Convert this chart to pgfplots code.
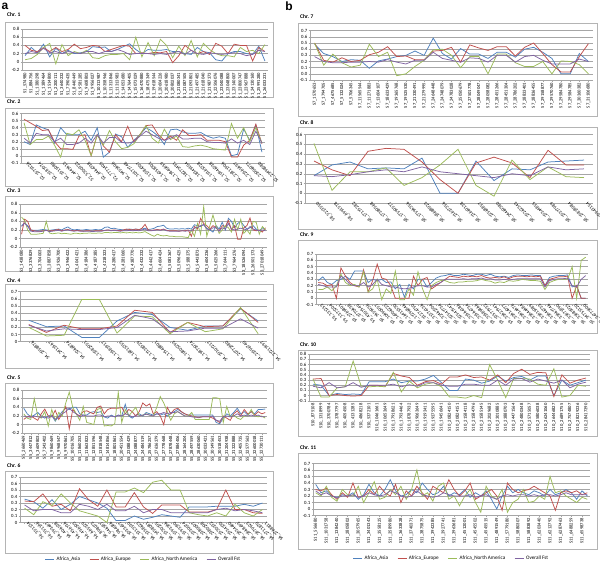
\documentclass[border=0pt]{standalone}
\usepackage{fontspec}
\setmainfont{Carlito}
\newfontfamily\letterfont{Liberation Sans}
\usepackage{pgfplots}
\pgfplotsset{compat=1.18}
\usepackage{pgfplotstable}

\definecolor{cAsia}{HTML}{4F81BD}
\definecolor{cEur}{HTML}{C0504D}
\definecolor{cNam}{HTML}{9BBB59}
\definecolor{cFst}{HTML}{8064A2}
\definecolor{gridc}{HTML}{A6A6A6}
\definecolor{framec}{HTML}{B4B4B4}

\tikzset{
  asiac/.style={color=cAsia, line width=0.75pt},
  eurc/.style={color=cEur, line width=0.75pt},
  namc/.style={color=cNam, line width=0.75pt},
  fstc/.style={color=cFst, line width=0.75pt},
}

\pgfplotsset{
  chr/.style={
    scale only axis, anchor=north west,
    axis x line*=bottom, axis y line*=left,
    axis line style={gridc, line width=0.4pt},
    ymajorgrids, grid style={gridc, line width=0.4pt},
    tick style={gridc, line width=0.4pt}, major tick length=1.5pt, tick align=outside,
    xtick pos=bottom, ytick pos=left,
    yticklabel style={font=\fontsize{4.8}{5}\selectfont, inner sep=1pt,
      /pgf/number format/.cd, fixed, precision=1, assume math mode=true},
    xticklabel style={font=\fontsize{4.6}{5}\selectfont, rotate=90, anchor=east, inner sep=1pt},
    every axis plot/.append style={mark=none},
  },
  diag/.style={xticklabel style={rotate=45, anchor=north east, font=\fontsize{4.8}{5}\selectfont}},
  legendbox/.style={
    legend style={at={(0.5,-0.82)}, anchor=center, draw=none, fill=none,
      legend columns=4, font=\fontsize{5.2}{6}\selectfont,
      /tikz/every even column/.append style={column sep=7pt}},
    legend image code/.code={\draw[##1] (0pt,0pt)--(9pt,0pt);},
    legend entries={Africa\_Asia, Africa\_Europe, Africa\_North America, Overall Fst},
  },
}

\newcommand\fourlines[1]{%
  \addplot[asiac] table[x expr=\coordindex, y=a]{#1};
  \addplot[eurc] table[x expr=\coordindex, y=e]{#1};
  \addplot[namc] table[x expr=\coordindex, y=n]{#1};
  \addplot[fstc] table[x expr=\coordindex, y=f]{#1};
}

% columns: a = Africa_Asia, e = Africa_Europe, n = Africa_North America, f = Overall Fst
\pgfplotstableread{
a e n f
0.15 0.40 0.05 0.20
0.35 0.28 0.08 0.25
0.22 0.25 0.18 0.22
0.43 0.35 0.35 0.33
0.12 0.25 0.45 0.22
0.33 0.35 -0.05 0.25
0.20 0.25 0.42 0.20
0.28 0.30 0.15 0.25
0.20 0.43 0.25 0.22
0.22 0.32 0.20 0.20
0.25 0.35 0.28 0.25
0.37 0.40 0.10 0.25
0.35 0.38 0.08 0.20
0.36 0.25 0.15 0.25
0.25 0.30 0.18 0.25
0.30 0.35 0.18 0.30
0.37 0.40 0.20 0.25
0.44 0.38 0.05 0.18
0.30 0.20 0.60 0.20
0.20 0.22 0.12 0.20
0.30 0.20 0.47 0.20
0.28 0.23 0.15 0.18
0.28 0.22 0.55 0.20
0.30 0.25 0.40 0.18
0.25 -0.02 0.10 0.22
0.25 0.15 0.38 0.25
0.20 0.40 0.15 0.18
0.18 0.28 0.52 0.28
0.35 0.20 0.12 0.20
0.25 0.25 0.45 0.18
0.22 0.18 0.30 0.22
0.05 0.45 0.20 0.20
0.02 0.38 0.15 0.18
0.20 0.20 0.15 0.20
0.25 0.43 0.12 0.22
0.25 0.40 0.35 0.20
0.20 0.40 0.25 0.15
0.18 0.02 0.28 0.18
0.38 0.35 0.20 0.28
0.02 0.25 0.42 0.25
}\tOne

\pgfplotstableread{
a e n f
0.20 0.52 0.47 0.25
0.16 0.47 0.16 0.18
0.44 0.42 0.23 0.32
0.40 0.36 0.23 0.30
0.37 0.37 0.28 0.30
0.18 0.20 0.15 0.20
0.40 0.10 -0.02 0.25
0.30 0.10 0.32 0.16
0.30 0.09 0.30 0.16
0.30 0.28 0.37 0.18
0.35 0.30 0.22 0.25
0.22 0.00 0.00 0.18
0.40 0.30 0.30 0.30
-0.02 0.14 0.15 0.18
0.05 0.05 0.36 0.26
0.31 0.30 0.20 0.26
0.27 0.20 0.10 0.19
0.12 0.42 0.12 0.18
0.22 0.20 0.17 0.20
0.30 0.30 0.30 0.28
0.40 0.43 0.43 0.35
0.35 0.44 0.25 0.30
0.28 0.30 0.18 0.25
0.16 0.22 0.38 0.22
0.37 0.28 0.23 0.25
0.38 0.22 0.28 0.30
0.34 0.37 0.13 0.24
0.32 0.29 0.12 0.24
0.32 0.29 0.14 0.25
0.33 0.30 0.15 0.25
0.28 0.22 0.13 0.20
0.25 0.22 0.10 0.19
0.27 0.22 0.09 0.19
0.25 0.20 0.08 0.18
0.00 -0.02 0.46 0.24
0.02 -0.02 0.25 0.18
0.38 0.15 0.40 0.22
0.22 0.22 0.20 0.16
0.44 0.45 0.40 0.35
0.05 0.17 0.18 0.18
}\tTwo

\pgfplotstableread{
a e n f
0.30 0.10 0.50 0.28
0.36 0.45 0.42 0.36
0.30 0.40 0.20 0.28
0.20 0.20 0.10 0.17
0.19 0.18 0.10 0.16
0.19 0.17 0.10 0.16
0.20 0.17 0.11 0.16
0.21 0.18 0.12 0.17
0.20 0.19 0.40 0.19
0.19 0.18 0.13 0.16
0.20 0.18 0.11 0.17
0.21 0.20 0.12 0.18
0.22 0.21 0.13 0.19
0.20 0.18 0.11 0.17
0.24 0.20 0.12 0.19
0.27 0.21 0.11 0.20
0.22 0.19 0.10 0.18
0.20 0.18 0.12 0.17
0.21 0.19 0.12 0.18
0.20 0.18 0.11 0.17
0.20 0.17 0.12 0.17
0.21 0.18 0.12 0.17
0.20 0.18 0.13 0.17
0.20 0.17 0.12 0.16
0.21 0.18 0.12 0.17
0.20 0.18 0.13 0.17
0.21 0.18 0.12 0.17
0.26 0.19 0.14 0.19
0.27 0.20 0.14 0.20
0.23 0.19 0.13 0.18
0.24 0.20 0.14 0.19
0.22 0.19 0.14 0.18
0.21 0.18 0.13 0.17
0.20 0.20 0.14 0.18
0.21 0.22 0.13 0.18
0.22 0.21 0.14 0.19
0.21 0.20 0.13 0.18
0.22 0.22 0.14 0.19
0.21 0.20 0.13 0.18
0.22 0.24 0.14 0.20
0.24 0.33 0.16 0.22
0.21 0.20 0.12 0.18
0.22 0.19 0.08 0.18
0.24 0.20 0.05 0.19
0.28 0.21 0.10 0.20
0.29 0.20 0.07 0.19
0.31 0.22 0.06 0.21
0.24 0.19 0.07 0.18
0.22 0.18 0.05 0.17
0.22 0.18 0.05 0.17
0.23 0.18 0.04 0.17
0.22 0.17 0.04 0.17
0.23 0.18 0.04 0.18
0.22 0.18 0.03 0.17
0.24 0.20 0.02 0.18
0.22 0.05 0.20 0.18
0.32 0.28 0.05 0.24
0.30 0.22 0.35 0.26
0.28 0.47 0.10 0.30
0.33 0.35 0.75 0.32
0.24 0.30 0.05 0.22
0.20 0.22 0.30 0.20
0.15 0.30 0.55 0.25
0.30 0.25 0.30 0.25
0.22 0.18 0.12 0.17
0.38 0.30 0.20 0.25
0.20 0.28 0.30 0.22
0.47 0.42 0.25 0.35
0.40 0.20 0.15 0.22
0.25 0.30 0.45 0.20
0.35 -0.02 0.20 0.22
0.40 -0.02 0.45 0.24
0.30 0.25 0.12 0.22
0.22 0.30 0.20 0.20
0.25 0.48 0.10 0.28
0.30 0.20 0.40 0.22
0.22 0.18 0.38 0.20
0.18 0.20 0.10 0.18
0.25 0.15 0.28 0.20
0.20 0.25 0.20 0.18
}\tThree

\pgfplotstableread{
a e n f
0.30 0.24 0.20 0.23
0.21 0.13 0.08 0.15
0.22 0.23 0.09 0.18
0.06 0.18 0.59 0.17
0.06 0.18 0.59 0.17
0.29 0.22 0.12 0.20
0.41 0.44 0.36 0.37
0.38 0.41 0.35 0.32
0.20 0.13 0.11 0.14
0.16 0.27 0.27 0.15
0.22 0.21 0.14 0.19
0.22 0.22 0.18 0.19
0.46 0.47 0.48 0.32
0.29 0.27 0.11 0.19
}\tFour

\pgfplotstableread{
a e n f
0.38 0.12 0.25 0.20
0.25 0.18 0.15 0.18
0.18 0.20 0.12 0.17
0.22 0.15 0.60 0.20
0.28 0.10 0.20 0.18
0.20 0.25 0.15 0.17
0.15 0.36 0.30 0.18
0.20 0.20 -0.03 0.15
0.22 0.18 0.35 0.20
0.08 0.33 0.10 0.12
0.20 0.12 0.28 0.18
0.30 0.25 0.20 0.25
0.38 0.42 0.50 0.30
0.35 -0.10 0.75 0.38
0.40 0.35 0.40 0.30
0.40 0.25 0.25 0.25
0.25 0.20 0.10 0.18
0.22 0.30 0.42 0.22
0.22 0.32 0.05 0.20
0.28 0.28 0.03 0.20
0.30 0.25 0.00 0.20
0.28 0.40 0.35 0.22
0.30 0.43 0.38 0.22
0.18 0.25 -0.03 0.18
0.15 0.35 -0.02 0.20
0.22 0.38 -0.03 0.20
0.18 0.38 0.02 0.18
0.22 0.38 0.75 0.22
0.20 0.40 0.05 0.20
0.47 0.25 0.35 0.25
0.20 0.35 0.20 0.22
0.15 0.30 0.30 0.18
0.22 0.20 0.40 0.20
0.25 0.30 0.20 0.20
0.20 0.50 0.22 0.22
0.28 0.43 0.25 0.24
0.25 0.48 0.22 0.22
0.22 0.25 0.20 0.20
0.25 0.30 0.40 0.25
0.22 0.20 0.65 0.25
0.25 0.00 0.50 0.28
0.20 0.40 0.30 0.25
0.25 0.25 0.10 0.28
0.30 0.35 0.25 0.28
0.35 0.38 0.30 0.30
0.30 0.30 0.25 0.25
0.25 0.25 0.20 0.20
0.22 0.22 0.20 0.20
0.22 0.20 0.28 0.18
0.22 0.18 0.12 0.17
0.22 0.16 0.12 0.17
0.22 0.18 0.12 0.18
0.22 0.18 0.12 0.18
0.22 0.18 0.12 0.18
0.22 0.15 0.62 0.20
0.05 0.10 0.62 0.10
0.02 0.05 0.60 0.08
0.15 0.20 0.05 0.18
0.25 0.15 0.42 0.20
0.20 0.10 0.18 0.18
0.28 0.25 0.22 0.20
0.38 0.32 0.15 0.25
0.25 0.20 0.12 0.20
0.30 0.35 0.20 0.22
0.22 0.25 0.20 0.20
0.30 0.30 0.35 0.22
0.25 0.22 0.20 0.20
0.35 0.30 0.18 0.22
0.35 0.25 0.20 0.18
0.36 0.28 0.15 0.18
}\tFive

\pgfplotstableread{
a e n f
0.36 0.33 0.22 0.27
0.32 0.32 0.12 0.18
0.22 0.44 0.32 0.20
0.35 0.25 0.26 0.20
0.20 0.28 0.44 0.15
0.28 0.18 0.30 0.15
0.40 0.52 0.18 0.28
0.35 0.35 0.14 0.25
0.30 0.25 0.10 0.20
0.22 0.50 0.00 0.28
0.03 0.24 0.47 0.18
0.03 0.24 0.47 0.18
0.10 0.46 0.53 0.25
0.05 0.24 0.46 0.15
0.08 0.14 0.62 0.20
0.12 0.27 0.65 0.20
0.10 0.27 0.50 0.15
0.08 0.27 0.50 0.15
0.24 0.16 0.15 0.15
0.24 0.16 0.12 0.15
0.24 0.16 0.10 0.15
0.25 0.20 0.15 0.20
0.25 0.50 0.10 0.22
0.25 0.20 0.28 0.18
0.28 0.20 0.15 0.20
0.25 0.15 0.10 0.18
0.30 0.14 0.20 0.15
}\tSix

\pgfplotstableread{
a e n f
0.48 0.50 0.50 0.28
0.33 0.22 0.14 0.20
0.28 0.19 0.32 0.18
0.20 0.26 0.18 0.18
0.23 0.20 0.11 0.19
0.22 0.22 0.14 0.19
0.09 0.31 0.48 0.20
0.21 0.35 0.28 0.19
0.24 0.44 0.35 0.23
0.28 0.28 -0.03 0.19
0.30 0.29 0.00 0.16
0.37 0.23 0.12 0.22
0.30 0.23 0.22 0.22
0.58 0.37 0.39 0.35
0.33 0.38 0.40 0.25
0.24 0.43 0.30 0.22
0.41 0.19 0.10 0.19
0.32 0.47 0.28 0.26
0.32 0.42 0.28 0.25
0.25 0.38 0.00 0.19
0.35 0.44 0.32 0.30
0.35 0.44 0.32 0.30
0.27 0.29 0.18 0.19
0.40 0.43 0.12 0.28
0.43 0.50 0.12 0.30
0.35 0.33 0.20 0.22
0.25 0.15 0.00 0.16
0.00 0.03 0.21 0.16
0.00 0.03 0.20 0.16
0.33 0.28 0.15 0.24
0.20 0.49 0.00 0.20
}\tSeven

\pgfplotstableread{
a e n f
0.18 0.33 0.51 0.18
0.29 0.24 0.03 0.17
0.32 0.18 0.22 0.19
0.25 0.43 0.22 0.22
0.26 0.46 0.26 0.24
0.25 0.45 0.08 0.22
0.36 0.32 0.16 0.27
0.00 0.14 0.29 0.22
0.00 0.00 0.45 0.20
0.33 0.31 0.08 0.18
0.13 0.37 -0.03 0.16
0.25 0.31 0.34 0.20
0.24 0.16 0.14 0.18
0.32 0.44 0.27 0.27
0.33 0.29 0.17 0.24
0.34 0.29 0.16 0.25
}\tEight

\pgfplotstableread{
a e n f
0.28 0.25 0.14 0.22
0.34 0.24 0.14 0.20
0.25 0.20 0.18 0.18
0.22 0.22 0.12 0.18
0.28 0.00 0.20 0.18
0.30 0.48 0.38 0.35
0.35 0.35 0.25 0.30
0.30 0.25 0.20 0.22
0.43 0.20 0.22 0.20
0.43 0.18 0.18 0.20
0.43 0.45 0.42 0.25
0.25 0.10 0.10 0.18
0.30 0.28 0.15 0.22
0.28 0.54 0.30 0.30
0.30 0.32 -0.02 0.22
0.25 0.30 0.15 0.20
0.26 0.20 0.08 0.18
0.15 0.00 0.43 0.18
0.22 0.00 -0.02 0.16
0.02 0.00 -0.02 0.15
0.22 0.00 0.15 0.16
0.15 0.35 0.05 0.18
0.30 0.20 0.42 0.20
0.30 0.30 0.15 0.20
0.18 0.33 -0.02 0.18
0.25 0.15 0.20 0.18
0.32 0.20 0.25 0.22
0.35 0.25 0.28 0.25
0.36 0.30 0.28 0.30
0.38 0.35 0.25 0.30
0.36 0.34 0.24 0.30
0.36 0.33 0.26 0.30
0.38 0.35 0.26 0.31
0.37 0.34 0.27 0.30
0.36 0.35 0.27 0.31
0.38 0.34 0.28 0.31
0.38 0.36 0.30 0.32
0.36 0.33 0.28 0.30
0.38 0.32 0.27 0.31
0.35 0.33 0.24 0.29
0.34 0.32 0.26 0.29
0.35 0.34 0.25 0.30
0.33 0.31 0.28 0.29
0.36 0.34 0.27 0.30
0.37 0.35 0.28 0.31
0.36 0.35 0.30 0.31
0.36 0.34 0.29 0.31
0.37 0.35 0.28 0.31
0.36 0.34 0.28 0.31
0.36 0.35 0.27 0.31
0.20 0.20 0.14 0.18
0.33 0.30 0.25 0.28
0.35 0.32 0.28 0.30
0.36 0.34 0.30 0.31
0.36 0.34 0.30 0.31
0.37 0.35 0.30 0.32
0.18 0.00 0.50 0.20
0.20 0.20 0.00 0.18
0.00 0.00 0.60 0.30
0.00 0.00 0.65 0.36
}\tNine

\pgfplotstableread{
a e n f
0.22 0.32 0.32 0.18
0.20 0.33 -0.03 0.15
0.00 0.00 -0.03 0.25
0.04 0.02 0.15 0.15
0.02 0.00 0.17 0.17
0.03 -0.01 0.67 0.25
0.02 0.00 0.18 0.16
0.27 0.20 0.17 0.20
0.27 0.20 0.18 0.20
0.27 0.18 0.17 0.20
0.32 0.43 0.45 0.22
0.25 0.38 0.07 0.17
0.28 0.35 0.28 0.21
0.28 0.20 0.15 0.18
0.32 0.27 0.22 0.25
0.39 0.29 0.25 0.25
0.25 0.22 0.17 0.20
0.10 0.36 -0.03 0.18
0.10 0.36 -0.03 0.18
0.32 0.40 -0.05 0.22
0.30 0.35 0.00 0.22
0.24 0.36 -0.04 0.20
0.28 0.30 0.60 0.20
0.38 0.40 0.30 0.30
0.28 0.25 -0.04 0.20
0.35 0.43 0.33 0.32
0.37 0.51 0.33 0.33
0.30 0.41 0.32 0.26
0.38 0.45 0.22 0.32
0.38 0.44 0.20 0.28
0.00 -0.02 0.52 0.24
0.30 0.40 -0.03 0.30
0.20 0.24 0.00 0.15
0.25 0.30 0.20 0.22
0.30 0.34 0.18 0.26
}\tTen

\pgfplotstableread{
a e n f
0.38 0.30 0.25 0.28
0.25 0.28 0.20 0.22
0.28 0.32 0.35 0.25
0.20 0.22 0.18 0.20
0.18 0.15 0.12 0.17
0.22 0.25 0.30 0.20
0.20 0.18 0.22 0.20
0.25 0.40 0.20 0.22
0.15 0.18 0.35 0.18
0.22 0.20 0.10 0.20
0.38 0.30 0.25 0.25
0.25 0.22 0.42 0.22
0.20 0.35 0.15 0.20
0.30 0.25 0.18 0.22
0.45 0.20 0.30 0.28
0.28 0.38 0.22 0.25
0.20 0.10 0.35 0.20
0.22 0.28 0.15 0.18
0.30 0.20 0.30 0.20
0.25 0.35 0.60 0.28
0.40 0.25 0.20 0.22
0.30 0.15 0.25 0.20
0.22 0.35 0.12 0.18
0.25 0.30 0.35 0.20
0.35 0.25 0.40 0.25
0.20 0.45 0.15 0.22
0.25 0.30 0.20 0.20
0.22 0.20 0.05 0.20
0.30 0.28 0.20 0.20
0.18 0.40 0.30 0.22
0.25 0.15 0.10 0.18
0.20 0.20 -0.05 0.20
0.28 0.25 0.35 0.22
0.15 0.30 0.20 0.18
0.00 0.20 0.15 0.15
0.20 -0.02 0.30 0.20
0.35 0.40 -0.05 0.22
0.25 0.30 0.10 0.20
0.30 0.25 0.15 0.22
0.25 0.28 0.30 0.22
0.22 0.30 0.10 0.20
0.28 0.35 0.12 0.22
0.25 0.30 0.20 0.20
0.20 0.25 0.15 0.22
0.30 0.20 0.50 0.22
0.22 -0.02 0.25 0.20
0.25 0.25 0.28 0.22
0.30 0.28 0.20 0.25
0.25 0.25 0.15 0.22
0.15 0.28 0.10 0.22
0.28 0.22 0.18 0.22
0.20 0.25 0.15 0.22
}\tEleven

\begin{document}
\begin{tikzpicture}[x=1pt, y=1pt]
\useasboundingbox (0,0) rectangle (600,-564);

% panel letters and chart frames
\node[font=\letterfont\bfseries\fontsize{12}{12}\selectfont] at (5,-6) {a};
\node[font=\letterfont\bfseries\fontsize{12}{12}\selectfont] at (289,-6) {b};

\foreach \ya/\yb in {22/97, 108/186, 196/271, 284/368, 383/456, 471/553}
  \draw[framec, line width=0.5pt] (5,-\ya) rectangle (273,-\yb);
\foreach \ya/\yb in {23/116, 127/229, 240/333, 350/436, 453/549}
  \draw[framec, line width=0.5pt] (298,-\ya) rectangle (597,-\yb);

\foreach \x/\y/\t in {7/15/1, 7/102/2, 7/190.5/3, 7/280.5/4, 7/378/5, 7/466/6,
                      300/17/7, 300/123/8, 300/235/9, 300/345/10, 300/448/11}
  \node[anchor=west, inner sep=0pt, font=\bfseries\fontsize{5.5}{6}\selectfont] at (\x,-\y) {Chr. \t};

% Chr. 1
\begin{axis}[chr, at={(22pt,-29pt)}, width=246pt, height=41pt,
  xmin=-0.5, xmax=39.5, ymin=-0.2, ymax=0.8, ytick={-0.2,0,0.2,0.4,0.6,0.8},
  xtick={0,...,39},
  xticklabels={S1\_574980, S1\_884756, S1\_1380298, S1\_1389464, S1\_1514800, S1\_2200111, S1\_3640232, S1\_7390435, S1\_8440449, S1\_9581285, S1\_9608803, S1\_9956027, S1\_10313987, S1\_10358946, S1\_11313846, S1\_11313983, S1\_14053680, S1\_14764405, S1\_15073029, S1\_16470880, S1\_18475349, S1\_19618544, S1\_20604226, S1\_20618980, S1\_20802037, S1\_21080341, S1\_21087505, S1\_21093801, S1\_21497485, S1\_21618040, S1\_21987373, S1\_22506076, S1\_23040088, S1\_23048800, S1\_23140007, S1\_23800747, S1\_23967888, S1\_24130160, S1\_25991280, S1\_26033231}]
\fourlines{\tOne}
\end{axis}

% Chr. 2
\begin{axis}[chr, diag, at={(21pt,-113.7pt)}, width=244pt, height=49pt,
  xmin=-0.5, xmax=39.5, ymin=-0.1, ymax=0.6, ytick={-0.1,0,0.1,0.2,0.3,0.4,0.5,0.6},
  xtick={0,2,...,38},
  xticklabels={S2\_2579126, S2\_3187074, S2\_3515080, S2\_4447613, S2\_5300322, S2\_6464338, S2\_7771405, S2\_9453606, S2\_10177748, S2\_11584307, S2\_14358301, S2\_17840659, S2\_18273491, S2\_18349104, S2\_19165328, S2\_19946538, S2\_21811906, S2\_22565697, S2\_23006071, S2\_23498580}]
\fourlines{\tTwo}
\end{axis}

% Chr. 3
\begin{axis}[chr, at={(20pt,-204.3pt)}, width=247pt, height=42.7pt,
  xmin=-0.5, xmax=79.5, ymin=-0.2, ymax=0.8, ytick={-0.2,0,0.2,0.4,0.6,0.8},
  xtick={0,3,...,78},
  xticklabels={S3\_1438080, S3\_3376829, S3\_3704003, S3\_3887858, S3\_3926700, S3\_3946422, S3\_4041421, S3\_4184386, S3\_4187385, S3\_4218323, S3\_4280417, S3\_4281060, S3\_4387770, S3\_4432232, S3\_4442417, S3\_4604424, S3\_5081367, S3\_5096425, S3\_5188375, S3\_5443873, S3\_5604236, S3\_5625266, S3\_7644111, S3\_7964276, S3\_18526094, S3\_26501173, S3\_27018049}]
\fourlines{\tThree}
\end{axis}

% Chr. 4
\begin{axis}[chr, diag, at={(20pt,-291.7pt)}, width=247pt, height=50pt,
  xmin=-0.5, xmax=13.5, ymin=0, ymax=0.7, ytick={0,0.1,0.2,0.3,0.4,0.5,0.6,0.7},
  xtick={0,...,13},
  xticklabels={S4\_2058876, S4\_2413567, S4\_3266874, S4\_13582051, S4\_13583917, S4\_16815353, S4\_17138529, S4\_17548801, S4\_19805293, S4\_19873074, S4\_20107217, S4\_20772680, S4\_23596740, S4\_27217697}]
\fourlines{\tFour}
\end{axis}

% Chr. 5
\begin{axis}[chr, at={(22pt,-390pt)}, width=245pt, height=43.3pt,
  xmin=-0.5, xmax=69.5, ymin=-0.2, ymax=0.8, ytick={-0.2,0,0.2,0.4,0.6,0.8},
  xtick={0,2,...,68},
  xticklabels={S5\_2660469, S5\_3447812, S5\_3609803, S5\_7243402, S5\_9860469, S5\_9968547, S5\_9970861, S5\_10016705, S5\_11860253, S5\_11863823, S5\_12851596, S5\_13818548, S5\_14814856, S5\_18801861, S5\_20451554, S5\_23088429, S5\_24088877, S5\_24484519, S5\_25786257, S5\_27636379, S5\_27778468, S5\_27878448, S5\_27884406, S5\_28164204, S5\_28497559, S5\_28630060, S5\_30033421, S5\_30149561, S5\_30518453, S5\_31204938, S5\_31322888, S5\_32405735, S5\_32577563, S5\_32600018, S5\_32730111}]
\fourlines{\tFive}
\end{axis}

% Chr. 6
\begin{axis}[chr, diag, legendbox, at={(20pt,-477pt)}, width=247pt, height=45.5pt,
  xmin=-0.5, xmax=26.5, ymin=0, ymax=0.7, ytick={0,0.1,0.2,0.3,0.4,0.5,0.6,0.7},
  xtick={0,...,26},
  xticklabels={S6\_351134, S6\_351166, S6\_393467, S6\_406538, S6\_456736, S6\_496303, S6\_665329, S6\_898073, S6\_946587, S6\_984086, S6\_1033457, S6\_1313530, S6\_1358623, S6\_1458081, S6\_1530205, S6\_1593366, S6\_1593390, S6\_2330074, S6\_2380007, S6\_2380208, S6\_2530332, S6\_2534330, S6\_2634460, S6\_2668493, S6\_2679923, S6\_2711870, S6\_2768811}]
\fourlines{\tSix}
\end{axis}

% Chr. 7
\begin{axis}[chr, at={(310pt,-30.7pt)}, width=283pt, height=49.3pt,
  xmin=-0.5, xmax=30.5, ymin=-0.1, ymax=0.7, ytick={-0.1,0,0.1,0.2,0.3,0.4,0.5,0.6,0.7},
  yticklabel style={/pgf/number format/zerofill},
  xtick={0,...,30},
  xticklabels={S7\_1570653, S7\_1794705, S7\_4675685, S7\_5132024, S7\_5706345, S7\_11565544, S7\_11271883, S7\_13604107, S7\_18633429, S7\_19365768, S7\_19525530, S7\_21330491, S7\_21279995, S7\_24648448, S7\_24748079, S7\_24783028, S7\_25050679, S7\_27501778, S7\_28049047, S7\_28058082, S7\_28451266, S7\_28451304, S7\_28786202, S7\_28833401, S7\_28836455, S7\_29158877, S7\_29570760, S7\_29584780, S7\_29584785, S7\_30360382, S7\_31106680}]
\fourlines{\tSeven}
\end{axis}

% Chr. 8
\begin{axis}[chr, diag, at={(305pt,-134.7pt)}, width=288pt, height=68.3pt,
  xmin=-0.5, xmax=15.5, ymin=-0.1, ymax=0.6, ytick={-0.1,0,0.1,0.2,0.3,0.4,0.5,0.6},
  xtick={0,...,15},
  xticklabels={S8\_5213550, S8\_6991578, S8\_17175282, S8\_17380568, S8\_17590577, S8\_17596356, S8\_18688023, S8\_21637356, S8\_21660138, S8\_22568857, S8\_24460380, S8\_25262343, S8\_25344855, S8\_25377989, S8\_25818084, S8\_25943154}]
\fourlines{\tEight}
\end{axis}

% Chr. 9
\begin{axis}[chr, diag, at={(316pt,-254pt)}, width=272pt, height=50.7pt,
  xmin=-0.5, xmax=59.5, ymin=-0.1, ymax=0.7, ytick={-0.1,0,0.1,0.2,0.3,0.4,0.5,0.6,0.7},
  xtick={0,2,...,58},
  xticklabels={S9\_131253, S9\_1373204, S9\_2769801, S9\_3770638, S9\_4307549, S9\_7659036, S9\_10690057, S9\_14906223, S9\_16415530, S9\_17296846, S9\_31274750, S9\_31374136, S9\_32462504, S9\_32547734, S9\_32547542, S9\_33564186, S9\_33564734, S9\_33589866, S9\_33577932, S9\_33627941, S9\_33614077, S9\_33614676, S9\_33644684, S9\_33615089, S9\_33646733, S9\_33667746, S9\_33671890, S9\_33689025, S9\_34755120, S9\_34773600}]
\fourlines{\tNine}
\end{axis}

% Chr. 10
\begin{axis}[chr, at={(309pt,-354.3pt)}, width=281pt, height=46.4pt,
  xmin=-0.5, xmax=34.5, ymin=-0.1, ymax=0.8, ytick={-0.1,0,0.1,0.2,0.3,0.4,0.5,0.6,0.7,0.8},
  xtick={0,...,34},
  xticklabels={S10\_875108, S10\_1318999, S10\_3700784, S10\_3787797, S10\_4054508, S10\_4131285, S10\_4868218, S10\_5372101, S10\_10461661, S10\_10653649, S10\_17918621, S10\_17934464, S10\_18787932, S10\_19063649, S10\_19193411, S10\_19375595, S10\_19456641, S10\_20824150, S10\_20824151, S10\_21584118, S10\_21584796, S10\_21585145, S10\_22029682, S10\_23010885, S10\_23880703, S10\_24471564, S10\_24800348, S10\_25715057, S10\_25806038, S10\_26241060, S10\_26446827, S10\_26891755, S10\_27574807, S10\_28219236, S10\_28417390}]
\fourlines{\tTen}
\end{axis}

% Chr. 11
\begin{axis}[chr, legendbox, at={(313pt,-463.5pt)}, width=277pt, height=52pt,
  xmin=-0.5, xmax=51.5, ymin=-0.1, ymax=0.7, ytick={-0.1,0,0.1,0.2,0.3,0.4,0.5,0.6,0.7},
  xtick={0,2,...,50},
  xticklabels={S11\_556680, S11\_1031758, S11\_1384240, S11\_2805802, S11\_3057965, S11\_3401343, S11\_3558125, S11\_3589980, S11\_3633828, S11\_3740371, S11\_3875875, S11\_3942385, S11\_3927741, S11\_3963681, S11\_4512001, S11\_4545502, S11\_4545515, S11\_4891549, S11\_5779180, S11\_5880307, S11\_5883892, S11\_6203440, S11\_6212792, S11\_6287463, S11\_6488259, S11\_6598738}]
\fourlines{\tEleven}
\end{axis}
\end{tikzpicture}
\end{document}
